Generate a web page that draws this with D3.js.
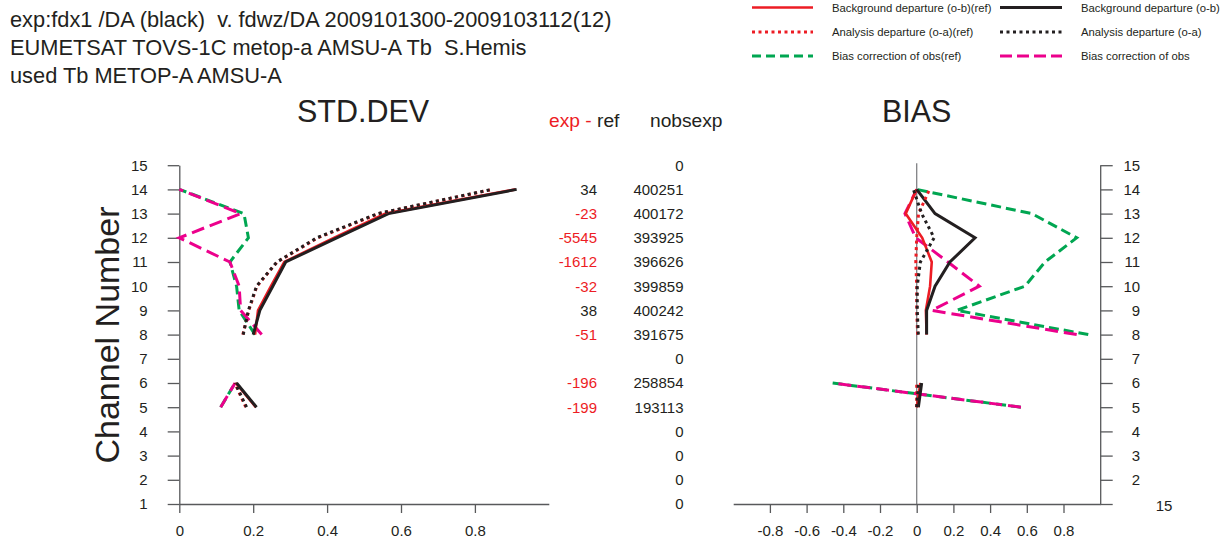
<!DOCTYPE html>
<html>
<head>
<meta charset="utf-8">
<script src="https://cdn.jsdelivr.net/npm/d3@7"></script>
<style>
  html, body { margin: 0; padding: 0; background: #fff; }
  svg { display: block; font-family: "Liberation Sans", Arial, Helvetica, sans-serif; }
  text { white-space: pre; }
</style>
</head>
<body>
<script>
// Channel numbers 1..15 (null = no data for that channel)
const channels = d3.range(1, 16);

// STD.DEV panel
const stdObRef = [null, null, null, null, 0.207, 0.153, null, 0.205, 0.213, 0.248, 0.284, 0.418, 0.558, 0.910, null];
const stdObExp = [null, null, null, null, 0.209, 0.155, null, 0.200, 0.218, 0.253, 0.288, 0.426, 0.566, 0.913, null];
const stdOaRef = [null, null, null, null, 0.180, 0.150, null, 0.172, 0.188, 0.210, 0.265, 0.375, 0.540, 0.848, null];
const stdOaExp = [null, null, null, null, 0.182, 0.151, null, 0.173, 0.187, 0.209, 0.264, 0.372, 0.537, 0.846, null];
const stdBcRef = [null, null, null, null, 0.112, 0.151, null, 0.205, 0.162, 0.155, 0.137, 0.187, 0.175, 0.000, null];
const stdBcExp = [null, null, null, null, 0.112, 0.151, null, 0.223, 0.166, 0.162, 0.137, 0.000, 0.166, 0.000, null];

// BIAS panel
const biasObRef = [null, null, null, null, 0.000, 0.020, null, 0.054, 0.050, 0.073, 0.082, 0.030, -0.060, 0.000, null];
const biasObExp = [null, null, null, null, 0.009, 0.027, null, 0.054, 0.054, 0.100, 0.181, 0.318, 0.100, 0.000, null];
const biasOaRef = [null, null, null, null, 0.000, 0.000, null, 0.005, 0.000, 0.000, -0.005, 0.000, 0.010, 0.070, null];
const biasOaExp = [null, null, null, null, 0.000, 0.010, null, 0.009, 0.003, 0.003, 0.020, 0.095, 0.027, -0.018, null];
const biasBcRef = [null, null, null, null, 0.568, -0.458, null, 0.935, 0.218, 0.590, 0.699, 0.872, 0.627, 0.000, null];
const biasBcExp = [null, null, null, null, 0.568, -0.458, null, 0.872, 0.082, 0.341, 0.170, -0.005, -0.064, 0.000, null];

// Observation counts per channel
const nobsExp  = [0, 0, 0, 0, 193113, 258854, 0, 391675, 400242, 399859, 396626, 393925, 400172, 400251, 0];
const nobsDiff = [null, null, null, null, -199, -196, null, -51, 38, -32, -1612, -5545, -23, 34, null];

// Tick values
const stdTicks  = [0, 0.2, 0.4, 0.6, 0.8];
const biasTicks = [-0.8, -0.6, -0.4, -0.2, 0, 0.2, 0.4, 0.6, 0.8];
const chanTicks = d3.range(1, 16);

const titleLines = [
  "exp:fdx1 /DA (black)  v. fdwz/DA 2009101300-2009103112(12)",
  "EUMETSAT TOVS-1C metop-a AMSU-A Tb  S.Hemis",
  "used Tb METOP-A AMSU-A"
];

const C = {
  text: "#231f20", red: "#ed1c24", black: "#231f20",
  green: "#00a651", pink: "#ec008c", axis: "#58595b", zero: "#808285"
};
const styles = {
  obRef: { color: C.red,   width: 2.6, dash: null },
  obExp: { color: C.black, width: 3,   dash: null },
  oaRef: { color: C.red,   width: 3,   dash: "3,3.5" },
  oaExp: { color: C.black, width: 3,   dash: "3,3.5" },
  bcRef: { color: C.green, width: 3,   dash: "10,5" },
  bcExp: { color: C.pink,  width: 3,   dash: "13,6" }
};

const W = 1229, H = 543;
const svg = d3.select("body").append("svg").attr("width", W).attr("height", H);

// Scales
const y = d3.scaleLinear().domain([1, 15]).range([504, 165.2]);
const xStd = d3.scaleLinear().domain([0, 1]).range([179.3, 548.8]);
const xBias = d3.scaleLinear().domain([-1, 1]).range([733.2, 1100.2]);

const fmt = d => String(+d.toFixed(1));

function styleAxis(g) {
  g.selectAll("path.domain").attr("stroke", C.axis).attr("stroke-width", 1.3);
  g.selectAll(".tick line").attr("stroke", C.axis).attr("stroke-width", 1.3);
  g.selectAll(".tick text").attr("fill", C.text).attr("font-size", 15)
    .attr("font-family", "Liberation Sans, Arial, Helvetica, sans-serif");
}

// ---- Header text ----
svg.append("g").selectAll("text").data(titleLines).join("text")
  .attr("x", 10).attr("y", (d, i) => 27 + i * 28)
  .attr("xml:space", "preserve")
  .attr("font-size", 21.8).attr("fill", C.text).text(d => d);

svg.append("text").attr("x", 363).attr("y", 122).attr("text-anchor", "middle")
  .attr("font-size", 30.5).attr("fill", C.text).text("STD.DEV");
svg.append("text").attr("x", 916.7).attr("y", 122).attr("text-anchor", "middle")
  .attr("font-size", 30.5).attr("fill", C.text).text("BIAS");

const hdr = svg.append("text").attr("x", 549).attr("y", 127).attr("font-size", 19.2);
hdr.append("tspan").attr("fill", C.red).text("exp - ");
hdr.append("tspan").attr("fill", C.text).text("ref");
svg.append("text").attr("x", 650).attr("y", 127).attr("font-size", 19.2)
  .attr("fill", C.text).text("nobsexp");

svg.append("text").attr("transform", "translate(119,335) rotate(-90)")
  .attr("text-anchor", "middle").attr("font-size", 34).attr("fill", C.text)
  .text("Channel Number");

// ---- STD.DEV axes ----
const gStdY = svg.append("g").attr("transform", `translate(${xStd(0)},0)`)
  .call(d3.axisLeft(y).tickValues(chanTicks).tickSize(11.6).tickSizeOuter(0)
    .tickPadding(20).tickFormat(d => String(d)));
styleAxis(gStdY);

const gStdX = svg.append("g").attr("transform", `translate(0,${y(1)})`)
  .call(d3.axisBottom(xStd).tickValues(stdTicks).tickSize(9).tickSizeOuter(0)
    .tickPadding(12).tickFormat(fmt));
styleAxis(gStdX);

// ---- BIAS axes ----
svg.append("line")
  .attr("x1", xBias(0)).attr("x2", xBias(0))
  .attr("y1", y(15) - 2).attr("y2", y(1))
  .attr("stroke", C.zero).attr("stroke-width", 1.3);

const gBiasX = svg.append("g").attr("transform", `translate(0,${y(1)})`)
  .call(d3.axisBottom(xBias).tickValues(biasTicks).tickSize(9).tickSizeOuter(0)
    .tickPadding(12).tickFormat(fmt));
styleAxis(gBiasX);

const gBiasY = svg.append("g").attr("transform", `translate(${xBias(1)},0)`)
  .call(d3.axisRight(y).tickValues(chanTicks).tickSize(12.5).tickSizeOuter(0)
    .tickPadding(28).tickFormat(d => d === 1 ? "" : String(d)));
styleAxis(gBiasY);
gBiasY.selectAll(".tick text").attr("text-anchor", "end").attr("x", 40);

svg.append("text").attr("x", 1164).attr("y", 510.5).attr("text-anchor", "middle")
  .attr("font-size", 15).attr("fill", C.text).text("15");

// ---- Count table ----
const rows = channels.map((c, i) => ({ c, diff: nobsDiff[i], nobs: nobsExp[i] }));
svg.append("g").selectAll("text").data(rows.filter(r => r.diff !== null)).join("text")
  .attr("x", 597).attr("y", d => y(d.c)).attr("dy", "0.36em")
  .attr("text-anchor", "end").attr("font-size", 15)
  .attr("fill", d => d.diff < 0 ? C.red : C.text).text(d => d.diff);
svg.append("g").selectAll("text").data(rows).join("text")
  .attr("x", 683.5).attr("y", d => y(d.c)).attr("dy", "0.36em")
  .attr("text-anchor", "end").attr("font-size", 15)
  .attr("fill", C.text).text(d => d.nobs);

// ---- Profiles ----
function profile(x, values, st) {
  const pts = channels.map((c, i) => ({ c, v: values[i] }));
  const line = d3.line().defined(d => d.v !== null).x(d => x(d.v)).y(d => y(d.c));
  svg.append("path").datum(pts).attr("d", line)
    .attr("fill", "none").attr("stroke", st.color).attr("stroke-width", st.width)
    .attr("stroke-dasharray", st.dash).attr("stroke-linejoin", "miter")
    .attr("stroke-linecap", "butt");
}

profile(xStd, stdBcRef, styles.bcRef);
profile(xStd, stdBcExp, styles.bcExp);
profile(xStd, stdObRef, styles.obRef);
profile(xStd, stdObExp, styles.obExp);
profile(xStd, stdOaRef, styles.oaRef);
profile(xStd, stdOaExp, styles.oaExp);

profile(xBias, biasBcRef, styles.bcRef);
profile(xBias, biasBcExp, styles.bcExp);
profile(xBias, biasObRef, styles.obRef);
profile(xBias, biasObExp, styles.obExp);
profile(xBias, biasOaRef, styles.oaRef);
profile(xBias, biasOaExp, styles.oaExp);

// ---- Legend ----
const legendItems = [
  { label: "Background departure (o-b)(ref)", st: styles.obRef, col: 0, row: 0 },
  { label: "Analysis departure (o-a)(ref)",   st: styles.oaRef, col: 0, row: 1 },
  { label: "Bias correction of obs(ref)",     st: styles.bcRef, col: 0, row: 2 },
  { label: "Background departure (o-b)",      st: styles.obExp, col: 1, row: 0 },
  { label: "Analysis departure (o-a)",        st: styles.oaExp, col: 1, row: 1 },
  { label: "Bias correction of obs",          st: styles.bcExp, col: 1, row: 2 }
];
const legCols = [{ x1: 752, x2: 813, tx: 832 }, { x1: 1000, x2: 1062, tx: 1081 }];
const legRows = [7.5, 32, 56];
const lg = svg.append("g");
legendItems.forEach(it => {
  const col = legCols[it.col], ry = legRows[it.row];
  lg.append("line").attr("x1", col.x1).attr("x2", col.x2).attr("y1", ry).attr("y2", ry)
    .attr("stroke", it.st.color).attr("stroke-width", it.st.width)
    .attr("stroke-dasharray", it.st.dash === "13,6" ? "12,5" : it.st.dash === "10,5" ? "9,5" : it.st.dash);
  lg.append("text").attr("x", col.tx).attr("y", ry + 4).attr("font-size", 11.3)
    .attr("fill", C.text).text(it.label);
});
</script>
</body>
</html>
